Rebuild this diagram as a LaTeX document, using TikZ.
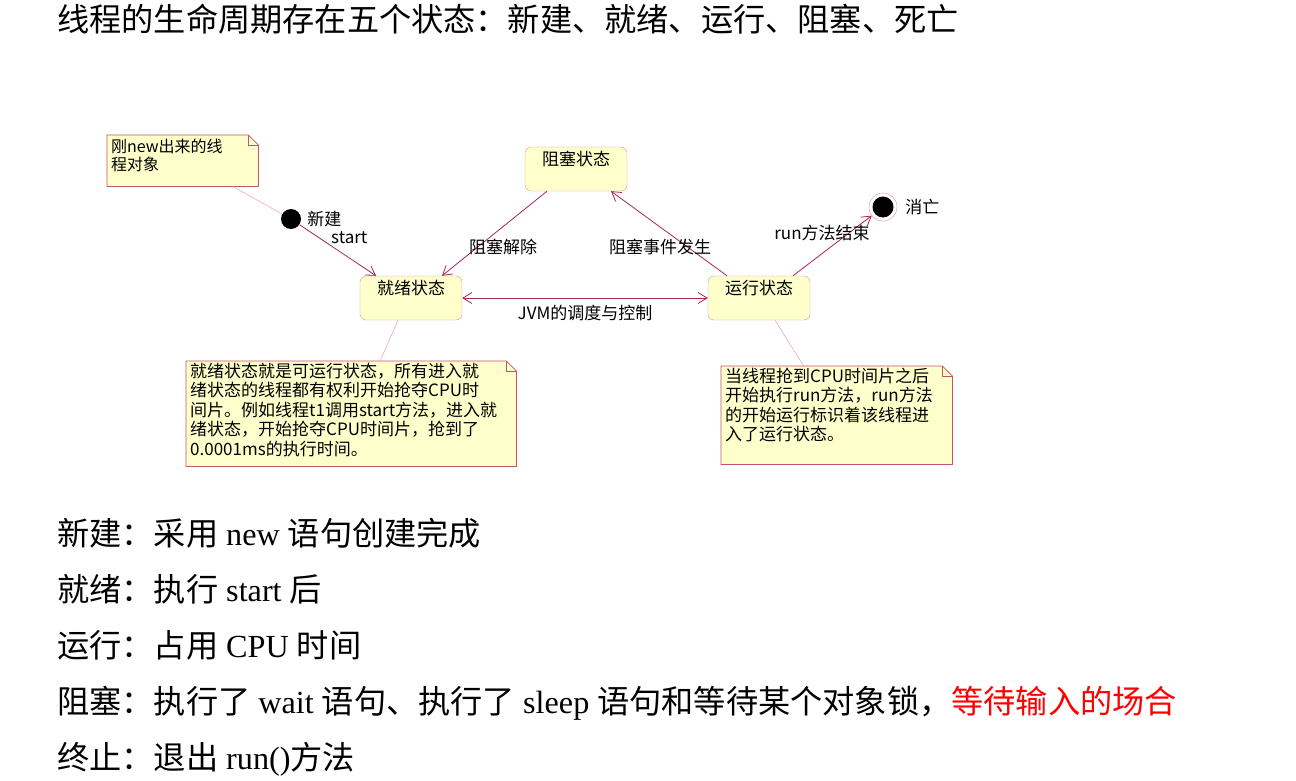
\documentclass[tikz,border=0pt]{standalone}
\usepackage{fontspec}
\setmainfont{Liberation Serif}
\newfontfamily\cjk{Noto Sans CJK SC}
\usepackage{tikz}
\usetikzlibrary{arrows.meta, positioning, backgrounds, calc}

\definecolor{notefill}{RGB}{255,255,204}
\definecolor{noteline}{RGB}{196,84,104}
\definecolor{stateline}{RGB}{210,150,160}
\definecolor{edgecol}{RGB}{165,40,85}
\definecolor{linkcol}{RGB}{232,172,190}

\begin{document}
\begin{tikzpicture}[
    x=1pt, y=-1pt,
    state/.style={rectangle, draw=stateline, rounded corners=6pt, fill=notefill, minimum width=102pt, inner sep=4pt, text height=14pt, text depth=22pt, font=\cjk\fontsize{17}{19}\selectfont},
    note/.style={rectangle, anchor=north west, inner xsep=4pt, inner ysep=3pt, align=left, font=\cjk\fontsize{17}{19.5}\selectfont},
    lbl/.style={inner sep=0pt, font=\cjk\fontsize{17}{19}\selectfont},
    big/.style={anchor=base west, inner sep=0pt, font=\fontsize{32.2}{36}\selectfont},
    trans/.style={draw=edgecol, line width=0.8pt, -{Straight Barb[length=9pt, width=11pt]}},
    link/.style={draw=linkcol, line width=0.6pt}
]
\useasboundingbox (0,0) rectangle (1296,781);

% title
\node[big, font=\cjk\fontsize{32.2}{36}\selectfont] (title) at (57,31.5) {线程的生命周期存在五个状态：新建、就绪、运行、阻塞、死亡};

% states
\node[state] (blk) at (576,169) {阻塞状态};
\node[state] (rdy) at (411,298) {就绪状态};
\node[state] (run) at (759,298) {运行状态};

\node[circle, fill=black, minimum size=20pt, inner sep=0pt] (new) at (291,219) {};
\node[lbl, right=6pt of new] (newlbl) {新建};
\node[circle, draw=stateline, fill=white, minimum size=28pt, inner sep=0pt] (dead) at (883,207) {};
\node[circle, fill=black, minimum size=21pt, inner sep=0pt] (deadin) at (dead) {};
\node[lbl, right=8pt of dead] (deadlbl) {消亡};

% notes
\node[note, font=\cjk\fontsize{16}{18}\selectfont, text width=143pt, text height=14pt, text depth=31pt] (n1) at (107,135) {刚new出来的线\\程对象};
\node[note, text width=322pt, text height=13pt, text depth=86pt] (n2) at (186,361) {就绪状态就是可运行状态，所有进入就\\绪状态的线程都有权利开始抢夺CPU时\\间片。例如线程t1调用start方法，进入就\\绪状态，开始抢夺CPU时间片，抢到了\\0.0001ms的执行时间。};
\node[note, text width=223pt, text height=13pt, text depth=79pt] (n3) at (721,366) {当线程抢到CPU时间片之后\\开始执行run方法，run方法\\的开始运行标识着该线程进\\入了运行状态。};

\begin{scope}[on background layer]
  \fill[white] (0,0) rectangle (1296,781);
  \foreach \n in {n1,n2,n3}{
    \filldraw[draw=noteline, fill=notefill, line width=0.7pt] (\n.north west) -- ($(\n.north east)+(-10,0)$) -- ($(\n.north east)+(0,10)$) -- (\n.south east) -- (\n.south west) -- cycle;
    \draw[noteline, line width=0.5pt] ($(\n.north east)+(-10,0)$) |- ($(\n.north east)+(0,10)$);
  }
\end{scope}

% note links
\draw[link] ($(n1.south)+(50,0)$) -- (new);
\draw[link] ($(n2.north)+(29,0)$) -- ($(rdy.south)+(-13,0)$);
\draw[link] ($(n3.north)+(-33,0)$) -- ($(run.south)+(16,0)$);

% transitions
\draw[trans] (new) -- ($(rdy.north)+(-35,0)$);
\draw[trans] ($(blk.south)+(-29,0)$) -- ($(rdy.north)+(31,0)$);
\draw[trans] ($(run.north)+(-32,0)$) -- ($(blk.south)+(35,0)$);
\draw[trans] ($(run.north)+(34,0)$) -- (dead);
\draw[trans, {Straight Barb[length=9pt, width=11pt]}-{Straight Barb[length=9pt, width=11pt]}] (rdy.east) -- (rdy.east -| run.west);

\node[lbl, anchor=west] (startlbl) at (331,238) {start};
\node[lbl] (unblk) at (503,247) {阻塞解除};
\node[lbl] (blkev) at (660,247) {阻塞事件发生};
\node[lbl] (sched) at (585,313) {JVM的调度与控制};
\node[lbl] (runend) at (822,233) {run方法结束};

% summary lines
\node[big] (l1) at (57,545) {{\cjk 新建：采用} new {\cjk 语句创建完成}};
\node[big] (l2) at (57,601) {{\cjk 就绪：执行} start {\cjk 后}};
\node[big] (l3) at (57,657) {{\cjk 运行：占用} CPU {\cjk 时间}};
\node[big] (l4) at (57,713) {{\cjk 阻塞：执行了} wait {\cjk 语句、执行了} sleep {\cjk 语句和等待某个对象锁，\textcolor{red}{等待输入的场合}}};
\node[big] (l5) at (57,769) {{\cjk 终止：退出} run(){\cjk 方法}};
\end{tikzpicture}
\end{document}
